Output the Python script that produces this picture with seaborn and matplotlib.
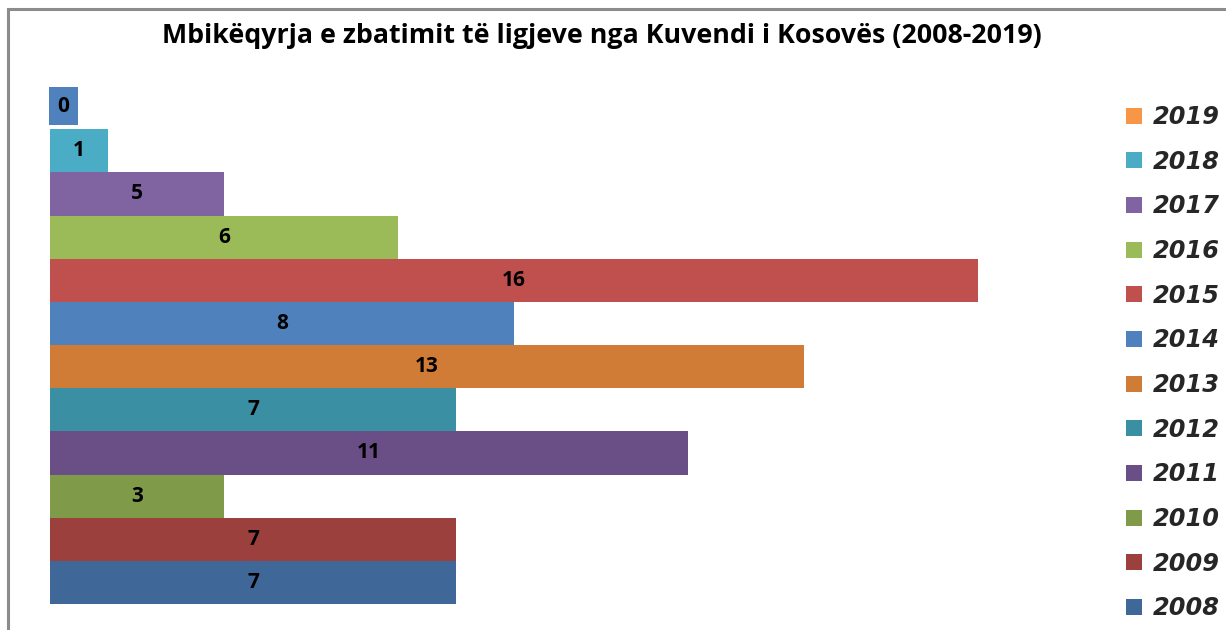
import matplotlib
matplotlib.use("Agg")
import matplotlib.pyplot as plt
import seaborn as sns
import pandas as pd
from matplotlib.patches import Rectangle, Patch

# ---- data (top to bottom as drawn) ----
years = ["2019", "2018", "2017", "2016", "2015", "2014", "2013", "2012", "2011", "2010", "2009", "2008"]
bar_length = [0, 1, 3, 6, 16, 8, 13, 7, 11, 3, 7, 7]
label_text = ["0", "1", "5", "6", "16", "8", "13", "7", "11", "3", "7", "7"]
bar_colors = ["#4F81BD", "#4BACC6", "#8064A2", "#9BBB59", "#C0504D", "#4F81BD",
              "#D07C36", "#3A8FA3", "#6A4E86", "#7F9A48", "#9C403D", "#3F6899"]
legend_colors = ["#F79646", "#4BACC6", "#8064A2", "#9BBB59", "#C0504D", "#4F81BD",
                 "#D07C36", "#3A8FA3", "#6A4E86", "#7F9A48", "#9C403D", "#3F6899"]
title = "Mbikëqyrja e zbatimit të ligjeve nga Kuvendi i Kosovës (2008-2019)"

df = pd.DataFrame({"year": years, "value": bar_length, "label": label_text})

sns.set_style("white")
plt.rcParams["font.family"] = ["Open Sans", "DejaVu Sans"]

W, H = 1226, 630
fig = plt.figure(figsize=(W / 100, H / 100), dpi=100)
ax = fig.add_axes([50 / W, 1 - 604 / H, 1044 / W, (604 - 86) / H])

sns.barplot(data=df, y="year", x="value", hue="year", order=years, hue_order=years,
            palette=dict(zip(years, bar_colors)), orient="h", width=1.0,
            legend=False, ax=ax, edgecolor="none", saturation=1)

ax.set_xlim(0, 18)
ax.set_xlabel("")
ax.set_ylabel("")
ax.set_xticks([])
ax.set_yticks([])
for s in ax.spines.values():
    s.set_visible(False)

# value labels
for i, (v, lab, col) in enumerate(zip(bar_length, label_text, bar_colors)):
    if v == 0:
        ax.annotate(lab, xy=(0, i), xytext=(5.3, 1), textcoords="offset points",
                    ha="left", va="center", fontsize=15, fontweight="bold", color="black",
                    bbox=dict(boxstyle="square,pad=0.42", facecolor=col, edgecolor="none"))
    else:
        ax.text(v / 2, i, lab, ha="center", va="center", fontsize=15,
                fontweight="bold", color="black")

# title
fig.text(602 / W, 1 - 36 / H, title, ha="center", va="center",
         fontsize=19.3, fontweight="bold", color="black")

# legend
handles = [Patch(facecolor=c, edgecolor="none") for c in legend_colors]
leg = fig.legend(handles, years, loc="upper left", bbox_to_anchor=(1126 / W, 1 - 105 / H),
                 frameon=False, prop=dict(family="DejaVu Sans", weight="bold", style="italic", size=17.3),
                 handlelength=0.65, handleheight=0.65, handletextpad=0.45,
                 labelspacing=0.86, borderaxespad=0, borderpad=0)

# outer frame (chart area border, cropped)
fig.patches.append(Rectangle((8 / W, -0.5), 2.0, 1.5 - 9 / H, transform=fig.transFigure,
                             fill=False, edgecolor="#8c8c8c", linewidth=2.2, figure=fig))

fig.savefig("out.png", dpi=100)
